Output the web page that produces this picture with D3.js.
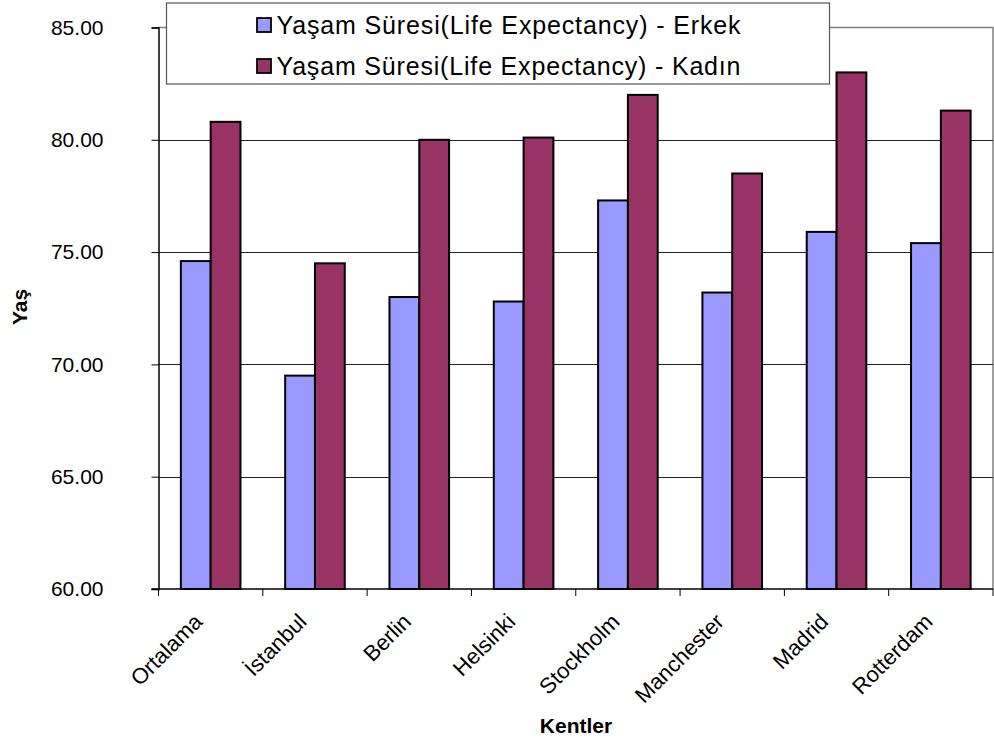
<!DOCTYPE html>
<html>
<head>
<meta charset="utf-8">
<script src="https://cdn.jsdelivr.net/npm/d3@7/dist/d3.min.js"></script>
<style>
  html, body { margin: 0; padding: 0; background: #fff; }
  svg { display: block; font-family: "Liberation Sans", Arial, sans-serif; }
</style>
</head>
<body>
<svg id="chart" width="994" height="745"></svg>
<script>
const categories = ["Ortalama", "İstanbul", "Berlin", "Helsinki", "Stockholm", "Manchester", "Madrid", "Rotterdam"];
const seriesNames = ["Yaşam Süresi(Life Expectancy) - Erkek", "Yaşam Süresi(Life Expectancy) - Kadın"];
const erkek = [74.6, 69.5, 73.0, 72.8, 77.3, 73.2, 75.9, 75.4];
const kadin = [80.8, 74.5, 80.0, 80.1, 82.0, 78.5, 83.0, 81.3];
const yTicks = [60, 65, 70, 75, 80, 85];
const colors = ["#9999FF", "#993366"];

const seriesValues = [erkek, kadin];
const svg = d3.select("#chart");
const pLeft = 158.5, pRight = 993, pTop = 27.5, pBottom = 589;

const x0 = d3.scaleBand().domain(categories).range([pLeft, pRight]).paddingInner(0).paddingOuter(0);
const x1 = d3.scaleBand().domain(d3.range(seriesNames.length)).range([0, x0.bandwidth()]).paddingInner(0).paddingOuter(0.75);
const y = d3.scaleLinear().domain([60, 85]).range([pBottom, pTop]);

// plot area border (top/right gray)
svg.append("path")
  .attr("d", `M${pLeft},${pTop}H${pRight}V${pBottom}`)
  .attr("fill", "none").attr("stroke", "#808080").attr("stroke-width", 1.5);

// gridlines
svg.append("g").selectAll("line").data(yTicks.filter(t => t > 60 && t < 85)).join("line")
  .attr("x1", pLeft).attr("x2", pRight)
  .attr("y1", d => Math.round(y(d)) + 0.5).attr("y2", d => Math.round(y(d)) + 0.5)
  .attr("stroke", "#222").attr("stroke-width", 1);

// legend (drawn beneath bars)
const lg = svg.append("g");
lg.append("rect").attr("x", 166.5).attr("y", 3).attr("width", 663).attr("height", 81)
  .attr("fill", "#fff").attr("stroke", "#555").attr("stroke-width", 1.2);
const items = lg.selectAll("g").data(seriesNames).join("g")
  .attr("transform", (d, i) => `translate(257,${25 + i * 41})`);
items.append("rect").attr("x", 0).attr("y", -7).attr("width", 14).attr("height", 14)
  .attr("fill", (d, i) => colors[i]).attr("stroke", "#000").attr("stroke-width", 1.8);
items.append("text").attr("x", 19.5).attr("y", 8.5).attr("font-size", 25).attr("fill", "#000")
  .attr("textLength", 464).text(d => d);

// bars
const groups = svg.append("g").selectAll("g").data(categories).join("g")
  .attr("transform", d => `translate(${x0(d)},0)`);
groups.selectAll("rect").data((d, i) => seriesValues.map((s, k) => ({k, v: s[i]}))).join("rect")
  .attr("x", d => x1(d.k))
  .attr("width", x1.bandwidth())
  .attr("y", d => y(d.v))
  .attr("height", d => y(60) - y(d.v))
  .attr("fill", d => colors[d.k])
  .attr("stroke", "#000").attr("stroke-width", 2);

// y axis
const yAxis = d3.axisLeft(y).tickValues(yTicks).tickFormat(d3.format(".2f")).tickSizeOuter(0).tickSize(7).tickPadding(48);
const yg = svg.append("g").attr("transform", `translate(${pLeft},0)`).call(yAxis);
yg.select(".domain").attr("stroke", "#000").attr("stroke-width", 1.5);
yg.selectAll(".tick line").attr("stroke", "#000");
yg.selectAll(".tick text").attr("font-size", 21).attr("fill", "#000").attr("font-family", "Liberation Sans, Arial, sans-serif");

// x axis
const xg = svg.append("g").attr("transform", `translate(0,${pBottom})`);
xg.append("line").attr("x1", pLeft - 7).attr("x2", pRight).attr("y1", 0).attr("y2", 0)
  .attr("stroke", "#000").attr("stroke-width", 1.5);
const bounds = categories.map(c => x0(c)).concat([pRight]);
xg.selectAll("line.tk").data(bounds).join("line").attr("class", "tk")
  .attr("x1", d => d).attr("x2", d => d).attr("y1", 0).attr("y2", 7)
  .attr("stroke", "#000").attr("stroke-width", 1);
xg.selectAll("text.cat").data(categories).join("text").attr("class", "cat")
  .attr("transform", d => `translate(${x0(d) + x0.bandwidth() / 2 - 7},${34}) rotate(-45)`)
  .attr("text-anchor", "end")
  .attr("font-size", 22).attr("fill", "#000")
  .text(d => d);

// axis titles
svg.append("text").attr("x", 576).attr("y", 733).attr("text-anchor", "middle")
  .attr("font-size", 21).attr("font-weight", "bold").text("Kentler");
svg.append("text").attr("transform", "translate(27,307) rotate(-90)").attr("text-anchor", "middle")
  .attr("font-size", 21).attr("font-weight", "bold").text("Yaş");
</script>
</body>
</html>
